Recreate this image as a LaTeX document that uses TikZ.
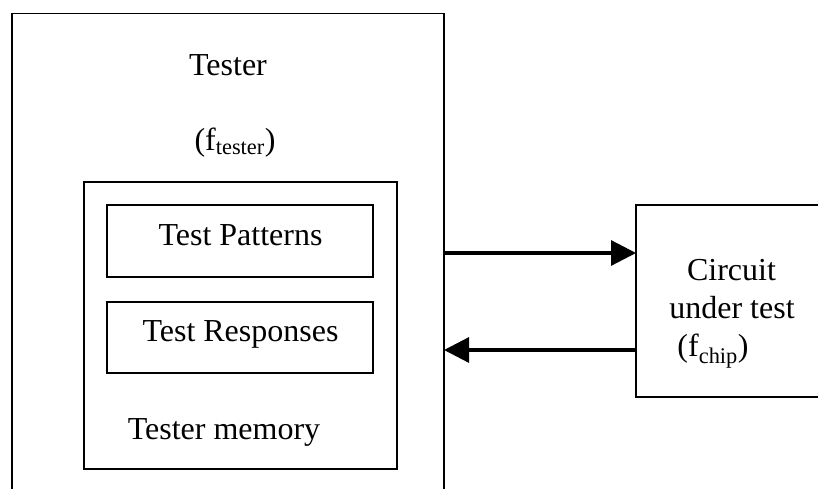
\documentclass[tikz,border=0pt]{standalone}
\usepackage{fontspec}
\setmainfont{Liberation Serif}
\usetikzlibrary{arrows.meta}
\begin{document}
\begin{tikzpicture}[x=1pt,y=-1pt,
  box/.style={draw=black,line width=1.9pt,inner sep=0pt,outer sep=0pt},
  lbl/.style={anchor=base,inner sep=0pt,font=\fontsize{32}{37}\selectfont},
  arr/.style={line width=3.2pt,-{Triangle[length=25pt,width=25pt]}}]
\useasboundingbox (0,0) rectangle (818,489);
\clip (0,0) rectangle (818,489);
% outer tester frame (runs past the bottom edge)
\node[box,minimum width=432pt,minimum height=490pt] (tester) at (228,258.5) {};
% tester memory and its two stores
\node[box,minimum width=312.7pt,minimum height=287.3pt] (memory) at (240.35,325.35) {};
\node[box,minimum width=265.4pt,minimum height=72.3pt] (patterns) at (240,241.2) {};
\node[box,minimum width=265.4pt,minimum height=71.6pt] (responses) at (240,337.5) {};
% circuit under test (runs past the right edge)
\node[box,minimum width=200pt,minimum height=192.3pt] (cut) at (736,301.15) {};
% labels
\node[lbl] (tlabel) at (228,76) {Tester};
\node[lbl] (tfreq) at (235,150) {(f\textsubscript{tester})};
\node[lbl] (plabel) at (240.5,245) {Test Patterns};
\node[lbl] (rlabel) at (240.5,341.7) {Test Responses};
\node[lbl] (mlabel) at (224,439) {Tester memory};
\node[lbl] (clabel) at (731.5,280.7) {Circuit};
\node[lbl] (ulabel) at (732,318) {under test};
\node[lbl] (cfreq) at (713,356.7) {(f\textsubscript{chip})};
% signal paths
\draw[arr] (tester.east |- 0,253) -- (cut.west |- 0,253);
\draw[arr] (cut.west |- 0,350) -- (tester.east |- 0,350);
\end{tikzpicture}
\end{document}
